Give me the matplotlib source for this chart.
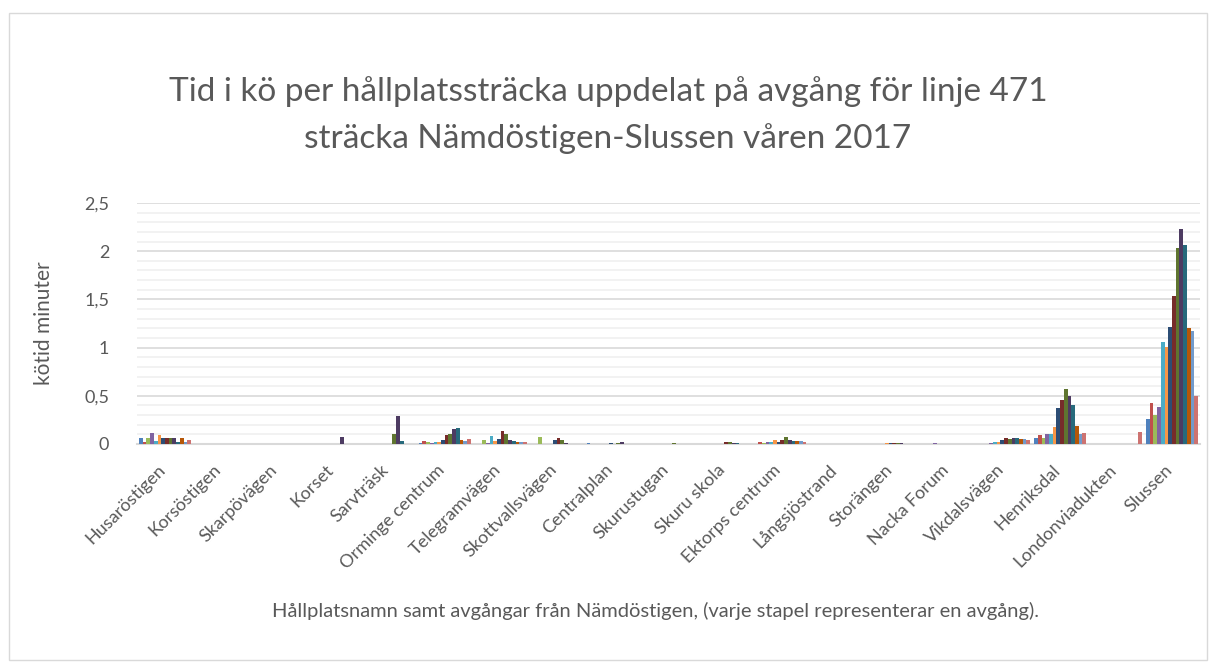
import numpy as np
import matplotlib
matplotlib.use("Agg")
from matplotlib import pyplot as plt
from matplotlib.patches import Rectangle
from matplotlib.transforms import ScaledTranslation

plt.rcParams['font.family'] = ['Lato', 'DejaVu Sans']

# hållplatser längs linje 471
hallplatser = ["Husaröstigen", "Korsöstigen", "Skarpövägen", "Korset", "Sarvträsk",
               "Orminge centrum", "Telegramvägen", "Skottvallsvägen", "Centralplan",
               "Skurustugan", "Skuru skola", "Ektorps centrum", "Långsjöstrand",
               "Storängen", "Nacka Forum", "Vikdalsvägen", "Henriksdal",
               "Londonviadukten", "Slussen"]

# kötid i minuter per avgång (en lista per avgång, ett värde per hållplats)
avg01 = [0.06, 0, 0, 0, 0, 0.01, 0, 0, 0.01, 0, 0, 0, 0, 0, 0, 0, 0.058, 0, 0.262]
avg02 = [0.025, 0, 0, 0, 0, 0.028, 0, 0, 0, 0, 0, 0.025, 0, 0, 0, 0, 0.097, 0, 0.424]
avg03 = [0.065, 0, 0, 0, 0, 0.024, 0.045, 0.076, 0, 0, 0, 0.01, 0, 0, 0, 0, 0.065, 0, 0.30]
avg04 = [0.117, 0, 0, 0, 0, 0.01, 0.01, 0, 0, 0, 0, 0.025, 0, 0, 0.01, 0.01, 0.107, 0, 0.379]
avg05 = [0.035, 0, 0, 0, 0, 0.024, 0.086, 0, 0, 0, 0, 0.025, 0, 0, 0, 0.024, 0.107, 0, 1.059]
avg06 = [0.097, 0, 0, 0, 0, 0.024, 0.034, 0, 0, 0, 0, 0.045, 0, 0.01, 0, 0.024, 0.176, 0, 1.003]
avg07 = [0.065, 0, 0, 0, 0, 0.045, 0.055, 0.045, 0.01, 0, 0, 0.025, 0, 0.01, 0, 0.038, 0.376, 0, 1.214]
avg08 = [0.06, 0, 0, 0, 0, 0.097, 0.138, 0.065, 0, 0, 0.025, 0.045, 0, 0.01, 0, 0.065, 0.455, 0, 1.531]
avg09 = [0.06, 0, 0, 0, 0.107, 0.107, 0.107, 0.045, 0.01, 0.01, 0.025, 0.076, 0, 0.01, 0, 0.048, 0.572, 0, 2.038]
avg10 = [0.065, 0, 0, 0.075, 0.293, 0.155, 0.045, 0.01, 0.025, 0, 0.01, 0.045, 0, 0.01, 0, 0.058, 0.493, 0, 2.228]
avg11 = [0.025, 0, 0, 0, 0.034, 0.165, 0.034, 0, 0, 0, 0.01, 0.035, 0, 0, 0, 0.065, 0.403, 0, 2.062]
avg12 = [0.06, 0, 0, 0, 0, 0.045, 0.024, 0, 0, 0, 0, 0.035, 0, 0, 0, 0.055, 0.186, 0, 1.203]
avg13 = [0.025, 0, 0, 0, 0, 0.034, 0.024, 0, 0, 0, 0, 0.035, 0, 0, 0, 0.055, 0.107, 0, 1.172]
avg14 = [0.038, 0, 0, 0, 0, 0.055, 0.024, 0, 0, 0, 0, 0.025, 0, 0, 0, 0.038, 0.11, 0.124, 0.5]

avgangar = [avg01, avg02, avg03, avg04, avg05, avg06, avg07,
            avg08, avg09, avg10, avg11, avg12, avg13, avg14]

# office-färger
farger = ["#4F81BD", "#C0504D", "#9BBB59", "#8064A2", "#4BACC6", "#F79646", "#2C4D75",
          "#772C2A", "#5F7530", "#4D3B62", "#276A7C", "#B65708", "#729ACA", "#CD7371"]

fig = plt.figure(figsize=(12.16, 6.68), dpi=100)
fig.patches.append(Rectangle((9 / 1216, 8 / 668), 1198 / 1216, 647 / 668,
                             transform=fig.transFigure, fill=False,
                             edgecolor="#d9d9d9", linewidth=1))

ax = fig.add_axes([137 / 1216, 224 / 668, 1063 / 1216, 241 / 668])

x = np.arange(len(hallplatser))
n = len(avgangar)
w = 0.93 / n
for j, (vals, c) in enumerate(zip(avgangar, farger)):
    ax.bar(x + (j - (n - 1) / 2) * w, vals, width=w, color=c, zorder=3,
           label="Avgång %d" % (j + 1))

ax.set_xlim(-0.5, len(hallplatser) - 0.5)
ax.set_ylim(0, 2.5)
ax.set_yticks(np.arange(0, 2.51, 0.5))
ax.set_yticks(np.arange(0, 2.51, 0.1), minor=True)
ax.set_yticklabels(["0", "0,5", "1", "1,5", "2", "2,5"], fontsize=13, color="#595959")
ax.grid(axis="y", which="major", color="#d9d9d9", linewidth=1.2, zorder=0)
ax.grid(axis="y", which="minor", color="#f0f0f0", linewidth=1.2, zorder=0)
ax.tick_params(axis="y", which="both", length=0, pad=20)
ax.tick_params(axis="x", length=0, pad=4)
for s in ["top", "right", "left"]:
    ax.spines[s].set_visible(False)
ax.spines["bottom"].set_color("#d9d9d9")
ax.spines["bottom"].set_linewidth(1.5)

ax.set_xticks(x)
ax.set_xticklabels(hallplatser, rotation=45, ha="right", rotation_mode="anchor",
                   fontsize=13, color="#595959")
forskj = ScaledTranslation(-0.08, -0.12, fig.dpi_scale_trans)
for lbl in ax.get_xticklabels():
    lbl.set_transform(lbl.get_transform() + forskj)

ax.set_ylabel("kötid minuter", fontsize=15, color="#595959", labelpad=22)
fig.text(655 / 1216, 1 - 611 / 668,
         "Hållplatsnamn samt avgångar från Nämdöstigen, (varje stapel representerar en avgång).",
         ha="center", va="center", fontsize=14.5, color="#595959")
fig.text(608 / 1216, 1 - 115 / 668,
         "Tid i kö per hållplatssträcka uppdelat på avgång för linje 471\nsträcka Nämdöstigen-Slussen våren 2017",
         ha="center", va="center", fontsize=24, color="#595959", linespacing=1.65)

fig.savefig("out.png", dpi=100)
